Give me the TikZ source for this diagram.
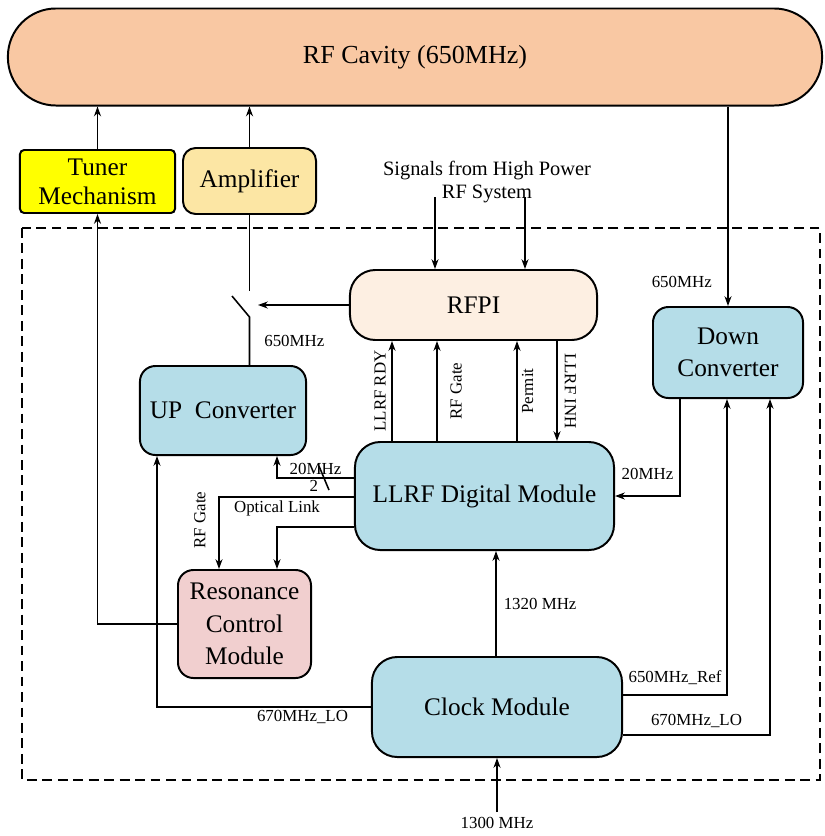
\documentclass[tikz,border=0pt]{standalone}
\usepackage{fontspec}
\setmainfont{Liberation Serif}
\usetikzlibrary{
    arrows.meta,
    calc,
    positioning
}
\definecolor{cavityorange}{HTML}{F9C8A3}
\definecolor{tuneryellow}{HTML}{FFFF00}
\definecolor{ampyellow}{HTML}{FCE6A4}
\definecolor{rfpipeach}{HTML}{FDEFE2}
\definecolor{modblue}{HTML}{B5DDE8}
\definecolor{resonpink}{HTML}{F1CFCF}
\tikzset{
    blk/.style={draw, line width=1.4pt, align=center, inner sep=2pt, font=\fontsize{18}{23}\selectfont},
    conn/.style={-{Stealth[length=7pt,width=5pt]}, line width=1.1pt},
    wire/.style={line width=1.1pt},
    lbl/.style={font=\fontsize{12}{14}\selectfont, inner sep=2pt}
}

\begin{document}
\begin{tikzpicture}[x=0.025cm, y=-0.025cm]
                        \useasboundingbox (0,0) rectangle (824,836);
                        \draw[line width=1.3pt, dash pattern=on 7pt off 4pt] (22,228) rectangle (820,780);

                        \node[blk, fill=cavityorange, rounded corners=1.2cm, minimum width=20.35cm, minimum height=2.425cm, font=\fontsize{18.5}{22}\selectfont] (cavity) at (415,57) {RF Cavity (650MHz)};
                        \node[blk, fill=tuneryellow, rounded corners=3pt, minimum width=3.875cm, minimum height=1.575cm, font=\fontsize{18}{20.5}\selectfont] (tuner) at (97.5,181.5) {Tuner\\Mechanism};
                        \node[blk, fill=ampyellow, rounded corners=9pt, minimum width=3.325cm, minimum height=1.65cm] (amp) at (249.5,181) {Amplifier};
                        \node[lbl, font=\fontsize{14.5}{16.5}\selectfont, align=center] (hprf) at (487,182) {Signals from High Power\\RF System};
                        \node[blk, fill=rfpipeach, rounded corners=18pt, minimum width=6.175cm, minimum height=1.75cm] (rfpi) at (473.5,305) {RFPI};
                        \node[blk, fill=modblue, rounded corners=11pt, minimum width=4.15cm, minimum height=2.225cm] (upconv) at (223,410.5) {UP\enspace Converter};
                        \node[blk, fill=modblue, rounded corners=11pt, minimum width=3.75cm, minimum height=2.275cm] (downconv) at (728,352.5) {Down\\Converter};
                        \node[blk, fill=modblue, rounded corners=18pt, minimum width=6.475cm, minimum height=2.7cm] (llrf) at (484.5,496) {LLRF Digital Module};
                        \node[blk, fill=resonpink, rounded corners=11pt, minimum width=3.325cm, minimum height=2.7cm] (reson) at (244.5,624) {Resonance\\Control\\Module};
                        \node[blk, fill=modblue, rounded corners=18pt, minimum width=6.25cm, minimum height=2.5cm] (clock) at (497,707) {Clock Module};

                        \coordinate (hpA) at (435,197);
                        \coordinate (hpB) at (525,197);
                        \coordinate (swtop) at (249.5,291);
                        \coordinate (swbot) at (249.5,317);
                        \coordinate (swblade) at (232,296);
                        \coordinate (swin) at (258,305);
                        \coordinate (in1300) at (497,812);
                        \coordinate (rdy) at ($(llrf.north)+(-92.5,0)$);
                        \coordinate (gate) at ($(llrf.north)+(-47.5,0)$);
                        \coordinate (permit) at ($(llrf.north)+(32.5,0)$);
                        \coordinate (inh) at ($(rfpi.south)+(83.5,0)$);
                        \coordinate (dcout) at ($(downconv.south)+(-48,0)$);
                        \coordinate (refin) at ($(downconv.south)+(-1,0)$);
                        \coordinate (loin) at ($(downconv.south)+(42,0)$);
                        \coordinate (clkup) at ($(clock.north)+(-1,0)$);
                        \coordinate (loup) at ($(upconv.south)+(-66,0)$);
                        \coordinate (ifup) at ($(upconv.south)+(54,0)$);
                        \coordinate (gatein) at ($(reson.north)+(-25.5,0)$);
                        \coordinate (optin) at ($(reson.north)+(32.5,0)$);

                        \draw[conn] (tuner.north) -- (tuner.north |- cavity.south);
                        \draw[conn] (amp.north) -- (amp.north |- cavity.south);
                        \draw[conn] (cavity.south -| downconv.north) -- (downconv.north) node[lbl, pos=0.88, left=9pt] {650MHz};
                        \draw[conn] (hpA) -- (hpA |- rfpi.north);
                        \draw[conn] (hpB) -- (hpB |- rfpi.north);

                        \draw[wire] (amp.south) -- (swtop);
                        \draw[wire] (swblade) -- (swbot) -- (swbot |- upconv.north) node[lbl, midway, right=8pt] {650MHz};
                        \draw[conn] (rfpi.west) -- (swin);

                        \draw[conn] (rdy) -- (rdy |- rfpi.south) node[lbl, midway, rotate=90, anchor=south, inner sep=4pt] {LLRF RDY};
                        \draw[conn] (gate) -- (gate |- rfpi.south) node[lbl, midway, rotate=90, anchor=north, inner sep=9pt] {RF Gate};
                        \draw[conn] (permit) -- (permit |- rfpi.south) node[lbl, midway, rotate=90, anchor=north, inner sep=3pt] {Permit};
                        \draw[conn] (inh) -- (inh |- llrf.north) node[lbl, midway, rotate=-90, anchor=south, inner sep=5pt] {LLRF INH};

                        \draw[conn] (dcout) |- (llrf.east) node[lbl, pos=0.75, above=9pt] {20MHz};
                        \draw[conn] ($(clock.east)+(0,-12)$) -| (refin) node[lbl, pos=0.25, above=5pt] {650MHz\_Ref};
                        \draw[conn] ($(clock.east)+(0,28)$) -| (loin) node[lbl, pos=0.25, above=3pt] {670MHz\_LO};
                        \draw[conn] (clkup) -- (clkup |- llrf.south) node[lbl, midway, right=3pt] {1320 MHz};
                        \draw[conn] (in1300) node[lbl, below=1pt] {1300 MHz} -- (clock.south);

                        \draw[conn] (clock.west) -| (loup) node[lbl, pos=0.16, below=0pt] {670MHz\_LO};
                        \draw[conn] ($(llrf.west)+(0,-18)$) -| (ifup) node[lbl, pos=0.25, above=0pt] {20MHz} node[lbl, pos=0.26, below=-1pt] {2};
                        \draw[wire] ($(llrf.west)+(-35,-30)$) -- ($(llrf.west)+(-25,-6)$);
                        \draw[conn] ($(llrf.west)+(0,1)$) -| (gatein) node[lbl, pos=0.66, rotate=90, anchor=south, inner sep=9pt] {RF Gate};
                        \draw[conn] ($(llrf.west)+(0,31)$) -| (optin) node[lbl, pos=0.5, above=5pt] {Optical Link};
                        \draw[conn] (reson.west) -| (tuner.south);
                    \end{tikzpicture}
\end{document}
